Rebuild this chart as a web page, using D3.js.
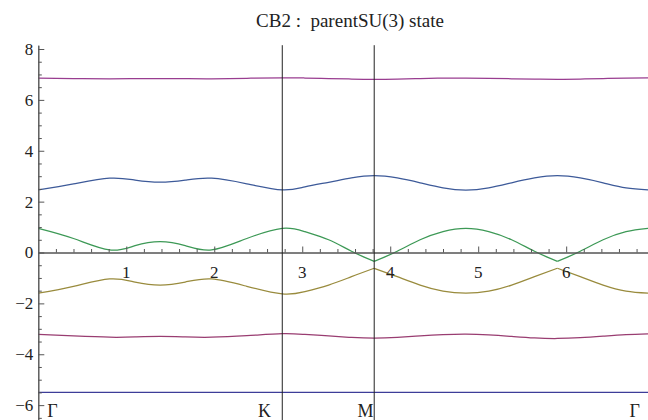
<!DOCTYPE html>
<html>
<head>
<meta charset="utf-8">
<script src="https://cdnjs.cloudflare.com/ajax/libs/d3/7.8.5/d3.min.js"></script>
</head>
<body style="margin:0">
<div id="chart-area"></div>
<script>
// k-path positions (shared by every band)
var kx = [0, 0.4, 0.81, 1.1, 1.385, 1.67, 1.97, 2.37, 2.773, 3.03, 3.30, 3.56, 3.818,
          4.08, 4.34, 4.60, 4.86, 5.12, 5.38, 5.64, 5.9, 6.16, 6.42, 6.68, 6.93];

// band energies, lowest to highest
var band1 = [-5.5, -5.5, -5.5, -5.5, -5.5, -5.5, -5.5, -5.5, -5.5, -5.5, -5.5, -5.5, -5.5,
             -5.5, -5.5, -5.5, -5.5, -5.5, -5.5, -5.5, -5.5, -5.5, -5.5, -5.5, -5.5];
var band2 = [-3.22, -3.28, -3.33, -3.32, -3.30, -3.32, -3.33, -3.27, -3.19, -3.22, -3.28, -3.34, -3.37,
             -3.34, -3.28, -3.23, -3.21, -3.24, -3.30, -3.36, -3.38, -3.35, -3.29, -3.23, -3.20];
var band3 = [-1.60, -1.33, -1.04, -1.16, -1.28, -1.16, -1.04, -1.33, -1.63, -1.54, -1.28, -0.95, -0.62,
             -0.95, -1.28, -1.52, -1.60, -1.52, -1.28, -0.95, -0.62, -0.95, -1.28, -1.52, -1.60];
var band4 = [0.95, 0.55, 0.10, 0.27, 0.43, 0.27, 0.10, 0.55, 0.95, 0.82, 0.50, 0.05, -0.35,
             0.05, 0.50, 0.82, 0.95, 0.82, 0.50, 0.05, -0.35, 0.05, 0.50, 0.82, 0.95];
var band5 = [2.46, 2.70, 2.92, 2.85, 2.77, 2.85, 2.92, 2.70, 2.46, 2.58, 2.76, 2.93, 3.02,
             2.93, 2.74, 2.54, 2.45, 2.54, 2.74, 2.93, 3.02, 2.93, 2.74, 2.54, 2.46];
var band6 = [6.86, 6.84, 6.83, 6.835, 6.84, 6.835, 6.83, 6.85, 6.87, 6.86, 6.84, 6.82, 6.81,
             6.82, 6.84, 6.855, 6.86, 6.85, 6.83, 6.815, 6.81, 6.82, 6.84, 6.86, 6.87];

// indices where a band has a kink
var cusps3 = [12, 20];
var cusps4 = [12, 20];

// high symmetry points
var symNames = ["Γ", "K", "M", "Γ"];
var symLabelX = [0.16, 2.57, 3.72, 6.78];
var symLines = [2.773, 3.818];

var yTicks = [-6, -4, -2, 0, 2, 4, 6, 8];
var xTicks = [1, 2, 3, 4, 5, 6];

var width = 648,
    height = 420;

var serif = "'Liberation Serif'";

var x = d3.scaleLinear().domain([0, 6.93]).range([38.3, 648]);
var y = d3.scaleLinear().domain([-6.6, 8.15]).range([420.4, 45.2]);

var svg = d3.select("#chart-area")
  .append("svg")
    .attr("width", width)
    .attr("height", height);

var bands = [
  { v: band1, color: "#3d3d99", cusps: [] },
  { v: band2, color: "#993d71", cusps: [] },
  { v: band3, color: "#998b3d", cusps: cusps3 },
  { v: band4, color: "#3d9956", cusps: cusps4 },
  { v: band5, color: "#3d5a99", cusps: [] },
  { v: band6, color: "#993d90", cusps: [] }
];

var line = d3.line()
    .x(function(d) { return x(d[0]); })
    .y(function(d) { return y(d[1]); })
    .curve(d3.curveNatural);

// split a band at its cusps so each piece is smooth on its own
function pieces(b) {
  var cuts = [0].concat(b.cusps, [kx.length - 1]);
  var out = [];
  for (var i = 0; i < cuts.length - 1; i++) {
    var seg = [];
    for (var j = cuts[i]; j <= cuts[i + 1]; j++) seg.push([kx[j], b.v[j]]);
    out.push(seg);
  }
  return out;
}

bands.forEach(function(b) {
  svg.append("g").selectAll("path")
    .data(pieces(b))
    .enter().append("path")
      .attr("d", line)
      .attr("fill", "none")
      .attr("stroke", b.color)
      .attr("stroke-width", 1.25);
});

// axes (tick marks from d3, labels drawn below)
var axisColor = "#555";

var yMinor = d3.range(-6.5, 8.01, 0.5).filter(function(t) { return Math.abs(t / 2 - Math.round(t / 2)) > 1e-6; });
var xMinor = d3.range(0.2, 6.9, 0.2).filter(function(t) { return Math.abs(t - Math.round(t)) > 1e-6; });

svg.append("g")
    .attr("transform", "translate(" + x(0) + ",0)")
    .call(d3.axisLeft(y).tickValues(yTicks).tickSizeInner(-6).tickSizeOuter(0).tickFormat(""));
svg.append("g")
    .attr("transform", "translate(" + x(0) + ",0)")
    .call(d3.axisLeft(y).tickValues(yMinor).tickSizeInner(-3.5).tickSizeOuter(0).tickFormat(""));
svg.append("g")
    .attr("transform", "translate(0," + y(0) + ")")
    .call(d3.axisBottom(x).tickValues(xTicks).tickSizeInner(-6).tickSizeOuter(0).tickFormat(""));
svg.append("g")
    .attr("transform", "translate(0," + y(0) + ")")
    .call(d3.axisBottom(x).tickValues(xMinor).tickSizeInner(-3.5).tickSizeOuter(0).tickFormat(""));

svg.selectAll(".domain, .tick line")
    .attr("stroke", axisColor)
    .attr("stroke-width", 1);

svg.append("g").selectAll("text")
  .data(yTicks)
  .enter().append("text")
    .attr("x", x(0) - 5)
    .attr("y", function(d) { return y(d); })
    .attr("dy", "0.35em")
    .attr("text-anchor", "end")
    .attr("fill", "#222")
    .style("font-family", serif)
    .style("font-size", "17px")
    .text(function(d) { return d < 0 ? "\u2212" + Math.abs(d) : String(d); });

svg.append("g").selectAll("text")
  .data(xTicks)
  .enter().append("text")
    .attr("x", function(d) { return x(d); })
    .attr("y", y(0) + 25)
    .attr("text-anchor", "middle")
    .attr("fill", "#222")
    .style("font-family", serif)
    .style("font-size", "17px")
    .text(function(d) { return String(d); });

// vertical lines at K and M
svg.append("g").selectAll("line")
  .data(symLines)
  .enter().append("line")
    .attr("x1", function(d) { return x(d); })
    .attr("x2", function(d) { return x(d); })
    .attr("y1", y(8.15))
    .attr("y2", height)
    .attr("stroke", "#222")
    .attr("stroke-width", 1);

// symmetry point labels
svg.append("g").selectAll("text")
  .data(symNames)
  .enter().append("text")
    .attr("x", function(d, i) { return x(symLabelX[i]); })
    .attr("y", y(-6.47))
    .attr("text-anchor", "middle")
    .attr("fill", "#222")
    .style("font-family", serif)
    .style("font-size", "18px")
    .text(function(d) { return d; });

// title
svg.append("text")
    .attr("x", 350)
    .attr("y", 27)
    .attr("text-anchor", "middle")
    .attr("fill", "#222")
    .style("font-family", serif)
    .style("font-size", "19px")
    .style("white-space", "pre")
    .text("CB2 :  parentSU(3) state");
</script>
</body>
</html>
